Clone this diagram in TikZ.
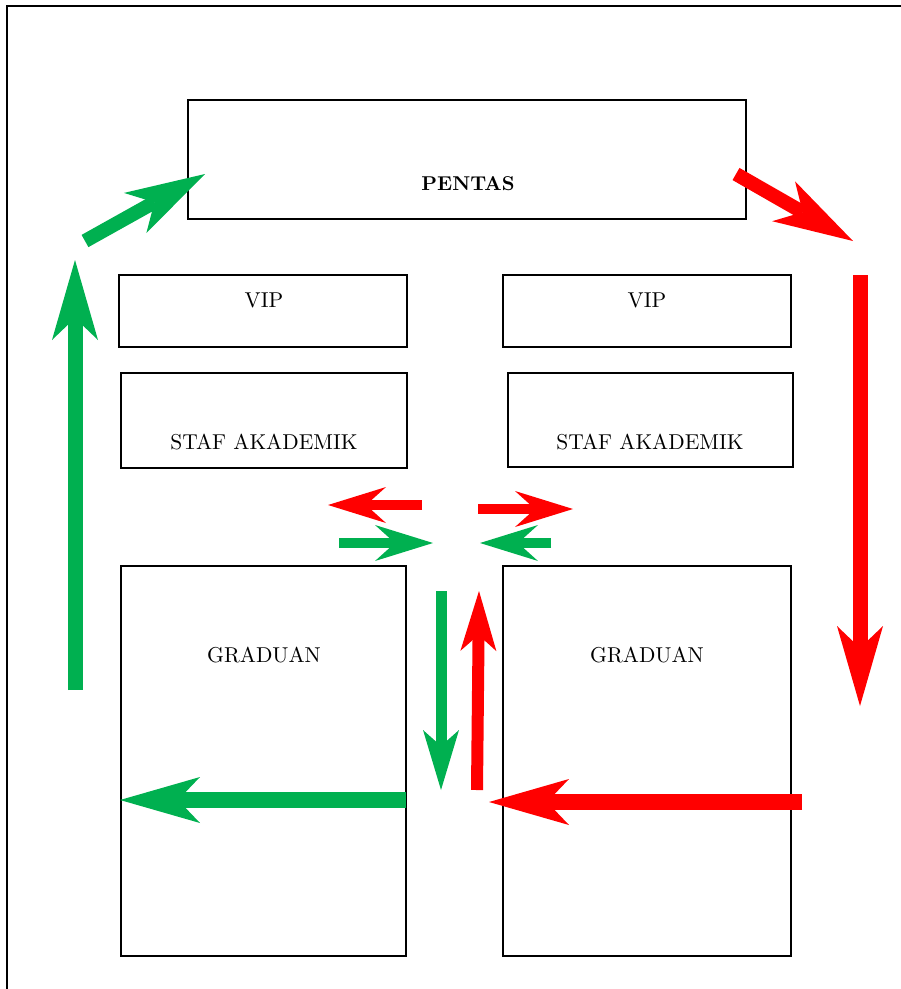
\documentclass[tikz,border=0pt]{standalone}
\usetikzlibrary{arrows.meta}
\definecolor{agreen}{HTML}{00B050}
\definecolor{ared}{HTML}{FF0000}
\newcommand{\bigtxt}[1]{\scalebox{2.15}{\fontsize{10}{12}\selectfont #1}}
\newcommand{\bigbf}[1]{\scalebox{2.0}{\fontsize{10}{12}\selectfont\bfseries #1}}
\begin{document}
\begin{tikzpicture}[x=1pt,y=-1pt,
  box/.style={draw,line width=1.3pt,inner sep=0pt},
  lbl/.style={inner sep=0pt},
  big/.style={line width=15pt,-{Stealth[length=80pt,width=46pt,inset=22pt,line width=0pt]}},
  small/.style={line width=10pt,-{Stealth[length=58pt,width=36pt,inset=20pt,line width=0pt]}},
  mid/.style={line width=11pt,-{Stealth[length=60pt,width=36pt,inset=16pt,line width=0pt]}}]
\useasboundingbox (0,0) rectangle (901,989);
% frame
\draw[line width=2pt] (7,995) -- (7,6) -- (905,6);
% boxes
\node[box,minimum width=558pt,minimum height=119pt] (pentas) at (467,159.5) {};
\node[lbl] (tpentas) at (468,184) {\bigbf{PENTAS}};
\node[box,minimum width=288pt,minimum height=72pt] (vipl) at (263,311) {};
\node[lbl] (tvipl) at (264,300) {\bigtxt{VIP}};
\node[box,minimum width=288pt,minimum height=72pt] (vipr) at (647,311) {};
\node[lbl] (tvipr) at (647,300) {\bigtxt{VIP}};
\node[box,minimum width=286pt,minimum height=95pt] (stafl) at (264,420.5) {};
\node[lbl] (tstafl) at (264,442) {\bigtxt{STAF AKADEMIK}};
\node[box,minimum width=285pt,minimum height=94pt] (stafr) at (650.5,420) {};
\node[lbl] (tstafr) at (650,442) {\bigtxt{STAF AKADEMIK}};
\node[box,minimum width=285pt,minimum height=390pt] (gradl) at (263.5,761) {};
\node[lbl] (tgradl) at (264,655) {\bigtxt{GRADUAN}};
\node[box,minimum width=288pt,minimum height=390pt] (gradr) at (647,761) {};
\node[lbl] (tgradr) at (647,655) {\bigtxt{GRADUAN}};
% arrow end points
\coordinate (g1a) at (75,690);  \coordinate (g1b) at (75,260);
\coordinate (g2a) at (85,241);  \coordinate (g2b) at (205,174);
\coordinate (g3a) at (339,543); \coordinate (g3b) at (433,543);
\coordinate (g4a) at (551,543); \coordinate (g4b) at (480,543);
\coordinate (g5a) at (441,591); \coordinate (g5b) at (441,790);
\coordinate (g6a) at (406,800); \coordinate (g6b) at (120,800);
\coordinate (r1a) at (736,174); \coordinate (r1b) at (853,241);
\coordinate (r2a) at (860,275); \coordinate (r2b) at (860,706);
\coordinate (r3a) at (422,505); \coordinate (r3b) at (328,505);
\coordinate (r4a) at (478,509); \coordinate (r4b) at (573,509);
\coordinate (r5a) at (477,790); \coordinate (r5b) at (479,591);
\coordinate (r6a) at (802,802); \coordinate (r6b) at (489,802);
% green arrows
\draw[big,agreen] (g1a) -- (g1b);
\draw[big,agreen,line width=14pt] (g2a) -- (g2b);
\draw[small,agreen] (g3a) -- (g3b);
\draw[small,agreen] (g4a) -- (g4b);
\draw[mid,agreen] (g5a) -- (g5b);
\draw[big,agreen,line width=16pt] (g6a) -- (g6b);
% red arrows
\draw[big,ared,line width=14pt] (r1a) -- (r1b);
\draw[big,ared] (r2a) -- (r2b);
\draw[small,ared] (r3a) -- (r3b);
\draw[small,ared] (r4a) -- (r4b);
\draw[mid,ared,line width=12pt] (r5a) -- (r5b);
\draw[big,ared,line width=16pt] (r6a) -- (r6b);
\end{tikzpicture}
\end{document}
